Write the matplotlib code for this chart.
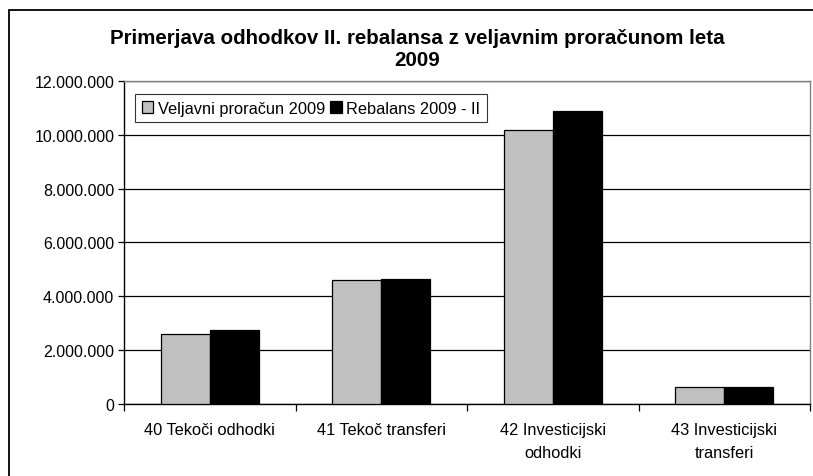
import numpy as np
import matplotlib.pyplot as plt
from matplotlib.patches import Rectangle

plt.rcParams['font.family'] = ['Liberation Sans', 'DejaVu Sans']

categories = ['40 Tekoči odhodki', '41 Tekoč transferi', '42 Investicijski\nodhodki', '43 Investicijski\ntransferi']
veljavni = [2610000, 4620000, 10190000, 640000]
rebalans = [2760000, 4640000, 10880000, 640000]
series_names = ['Veljavni proračun 2009', 'Rebalans 2009 - II']
yticks = [0, 2000000, 4000000, 6000000, 8000000, 10000000, 12000000]
ytick_labels = ['0', '2.000.000', '4.000.000', '6.000.000', '8.000.000', '10.000.000', '12.000.000']

fig = plt.figure(figsize=(8.13, 4.77), dpi=100)
W, H = 813, 477
ax = fig.add_axes([124/W, 1-405/H, 686/W, 323/H])

# outer chart frame (cut off on the right and bottom)
fig.add_artist(Rectangle((9/W, -0.1), 1.2, 1-11/H+0.1, fill=False, ec='black', lw=1.3,
                         transform=fig.transFigure, clip_on=False))

x = np.arange(len(categories))
bw = 0.286
ax.bar(x - bw/2, veljavni, bw, color='#c0c0c0', edgecolor='black', lw=0.9, label=series_names[0], zorder=3)
ax.bar(x + bw/2, rebalans, bw, color='black', edgecolor='black', lw=0.9, label=series_names[1], zorder=3)

ax.set_xlim(-0.5, 3.5)
ax.set_ylim(0, 12000000)
ax.set_yticks(yticks)
ax.set_yticklabels(ytick_labels, fontsize=11.5)
ax.set_xticks(x)
ax.set_xticklabels(categories, fontsize=11.8, linespacing=1.7)
ax.set_xticks(np.arange(-0.5, 4, 1), minor=True)
ax.tick_params(axis='x', which='major', length=0, pad=13)
ax.tick_params(axis='x', which='minor', length=5, direction='out', width=0.9)
ax.tick_params(axis='y', length=4, direction='out', width=0.9, pad=3)
ax.yaxis.grid(True, color='black', lw=0.9, zorder=0)
ax.set_axisbelow(True)

for s in ['left', 'bottom']:
    ax.spines[s].set_color('black')
    ax.spines[s].set_linewidth(1.0)
for s in ['top', 'right']:
    ax.spines[s].set_color('#808080')
    ax.spines[s].set_linewidth(1.0)

leg = ax.legend(loc='upper left', bbox_to_anchor=(11/686, 1-13/323), ncol=2, fontsize=11.8,
                frameon=True, fancybox=False, edgecolor='black', handlelength=0.7,
                handleheight=0.7, handletextpad=0.3, columnspacing=0.3, borderpad=0.4,
                borderaxespad=0)
leg.get_frame().set_linewidth(0.8)

fig.text(417/W, 1-39/H, 'Primerjava odhodkov II. rebalansa z veljavnim proračunom leta',
         ha='center', va='center', fontsize=14.8, fontweight='bold')
fig.text(417/W, 1-61/H, '2009', ha='center', va='center', fontsize=14.8, fontweight='bold')

fig.savefig('out.png', dpi=100)
